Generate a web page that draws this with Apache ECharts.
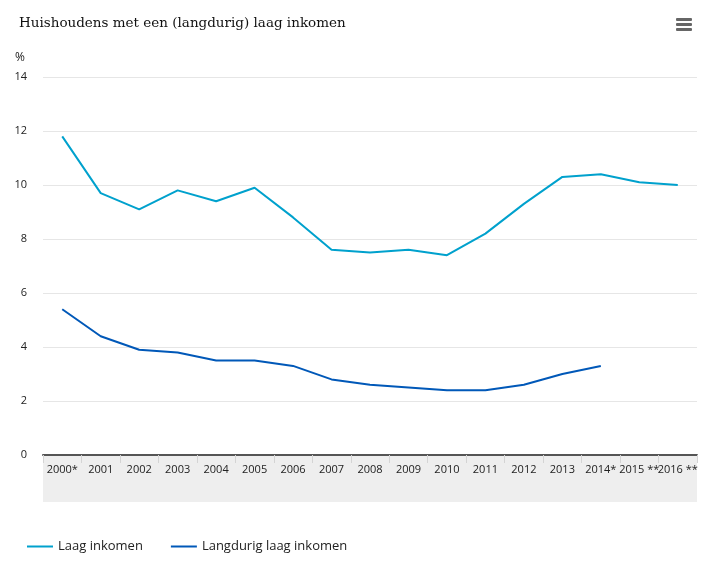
<!DOCTYPE html>
<html><head><meta charset="utf-8">
<script src="https://cdn.jsdelivr.net/npm/echarts@6/dist/echarts.min.js"></script>
<style>html,body{margin:0;padding:0;background:#fff}#c{width:718px;height:568px}</style>
</head><body><div id="c"></div>
<script>
const categories = ['2000*','2001','2002','2003','2004','2005','2006','2007','2008','2009','2010','2011','2012','2013','2014*','2015 **','2016 **'];
const laagInkomen = [11.8,9.7,9.1,9.8,9.4,9.9,8.8,7.6,7.5,7.6,7.4,8.2,9.3,10.3,10.4,10.1,10.0];
const langdurigLaagInkomen = [5.4,4.4,3.9,3.8,3.5,3.5,3.3,2.8,2.6,2.5,2.4,2.4,2.6,3.0,3.3,null,null];
const yTicks = {min:0, max:14, interval:2};

const chart = echarts.init(document.getElementById('c'));
const G = {left:43, right:21, top:77, bottom:113};
chart.setOption({
  animation:false,
  title:{text:'Huishoudens met een (langdurig) laag inkomen', left:14, top:11,
    textStyle:{fontFamily:'DejaVu Serif', fontSize:13.5, fontWeight:'normal', color:'#111'}},
  grid:G,
  legend:{left:22, bottom:10, itemWidth:26, itemHeight:2, itemGap:28, icon:'rect',
    textStyle:{fontFamily:'Open Sans', fontSize:13, color:'#222'}},
  graphic:[
    {type:'rect', z:-1, shape:{x:43, y:455, width:654, height:47}, style:{fill:'#eeeeee'}},
    {type:'rect', shape:{x:676, y:18, width:16, height:3, r:1}, style:{fill:'#666'}},
    {type:'rect', shape:{x:676, y:23, width:16, height:3, r:1}, style:{fill:'#666'}},
    {type:'rect', shape:{x:676, y:28, width:16, height:3, r:1}, style:{fill:'#666'}},
    {type:'text', left:15, top:52, style:{text:'%', font:'12px "Open Sans"', fill:'#222'}}
  ],
  xAxis:{type:'category', data:categories, boundaryGap:true,
    axisLine:{lineStyle:{color:'#555', width:2}},
    axisTick:{show:true, length:8, lineStyle:{color:'#d4d4d4', width:1}},
    axisLabel:{fontFamily:'Open Sans', fontSize:11, color:'#222', margin:9, interval:0}},
  yAxis:{type:'value', min:yTicks.min, max:yTicks.max, interval:yTicks.interval,
    axisLine:{show:false}, axisTick:{show:false},
    splitLine:{lineStyle:{color:'#e6e6e6'}},
    axisLabel:{fontFamily:'Open Sans', fontSize:11, color:'#222', margin:16}},
  series:[
    {name:'Laag inkomen', type:'line', data:laagInkomen, symbol:'none',
      lineStyle:{width:2, color:'#00a1cd'}, itemStyle:{color:'#00a1cd'}},
    {name:'Langdurig laag inkomen', type:'line', data:langdurigLaagInkomen, symbol:'none',
      lineStyle:{width:2, color:'#0058b8'}, itemStyle:{color:'#0058b8'}}
  ]
});
</script></body></html>
